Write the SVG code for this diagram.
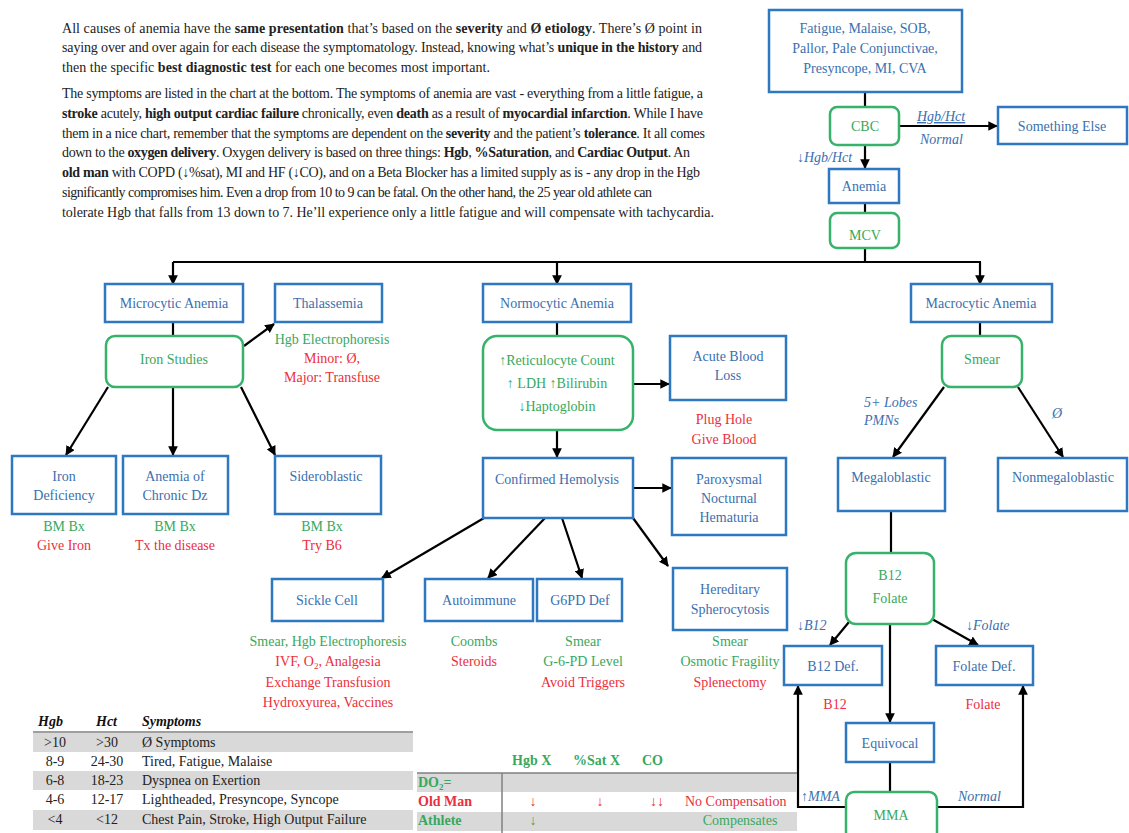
<svg xmlns="http://www.w3.org/2000/svg" width="1129" height="833" viewBox="0 0 1129 833">
<style>
.bx{fill:#fff;stroke:#2e78c2;stroke-width:2.5}
.gx{fill:#fff;stroke:#36b26a;stroke-width:2.5}
text{font-family:"Liberation Serif","Times New Roman",serif;font-size:14px}
.p{font-size:14px;fill:#222}
.k{font-weight:bold}
.b{fill:#3b6fae}
.g{fill:#37a85e}
.r{fill:#ec2f3b}
.c{text-anchor:middle}
.i{font-style:italic}
.cn{stroke:#000;stroke-width:2.2;fill:none}
.ar{marker-end:url(#ah)}
.tg{fill:#d9d9d9}
.tl{stroke:#7f7f7f;stroke-width:1.5}
</style>
<defs>
<marker id="ah" viewBox="0 0 10 10" refX="9" refY="5" markerWidth="4.4" markerHeight="4.4" orient="auto" markerUnits="strokeWidth"><path d="M0,0 L10,5 L0,10 z" fill="#000"/></marker>
</defs>
<rect width="1129" height="833" fill="#fff"/>

<g id="intro">
<text class="p" x="62" y="33" textLength="640" lengthAdjust="spacing">All causes of anemia have the <tspan class="k">same presentation</tspan> that’s based on the <tspan class="k">severity</tspan> and <tspan class="k">Ø etiology</tspan>. There’s Ø point in</text>
<text class="p" x="62" y="52" textLength="640" lengthAdjust="spacing">saying over and over again for each disease the symptomatology. Instead, knowing what’s <tspan class="k">unique in the history</tspan> and</text>
<text class="p" x="62" y="72" textLength="428" lengthAdjust="spacing">then the specific <tspan class="k">best diagnostic test</tspan> for each one becomes most important.</text>
<text class="p" x="62" y="98" textLength="641" lengthAdjust="spacing">The symptoms are listed in the chart at the bottom. The symptoms of anemia are vast - everything from a little fatigue, a</text>
<text class="p" x="62" y="118" textLength="641" lengthAdjust="spacing"><tspan class="k">stroke</tspan> acutely, <tspan class="k">high output cardiac failure</tspan> chronically, even <tspan class="k">death</tspan> as a result of <tspan class="k">myocardial infarction</tspan>. While I have</text>
<text class="p" x="62" y="138" textLength="643" lengthAdjust="spacing">them in a nice chart, remember that the symptoms are dependent on the <tspan class="k">severity</tspan> and the patient’s <tspan class="k">tolerance</tspan>. It all comes</text>
<text class="p" x="62" y="157" textLength="628" lengthAdjust="spacing">down to the <tspan class="k">oxygen delivery</tspan>. Oxygen delivery is based on three things: <tspan class="k">Hgb</tspan>, <tspan class="k">%Saturation</tspan>, and <tspan class="k">Cardiac Output</tspan>. An</text>
<text class="p" x="62" y="177" textLength="638" lengthAdjust="spacing"><tspan class="k">old man</tspan> with COPD (↓%sat), MI and HF (↓CO), and on a Beta Blocker has a limited supply as is - any drop in the Hgb</text>
<text class="p" x="62" y="197" textLength="590" lengthAdjust="spacing">significantly compromises him. Even a drop from 10 to 9 can be fatal.  On the other hand, the 25 year old athlete can</text>
<text class="p" x="62" y="217" textLength="652" lengthAdjust="spacing">tolerate Hgb that falls from 13 down to 7. He’ll experience only a little fatigue and will compensate with tachycardia.</text>
</g>

<g id="connectors">
<line class="cn" x1="865" y1="92" x2="865" y2="107"/>
<line class="cn ar" x1="899" y1="126" x2="997" y2="126"/>
<line class="cn ar" x1="865" y1="145" x2="865" y2="168"/>
<line class="cn" x1="865" y1="203" x2="865" y2="213"/>
<polyline class="cn" points="865,248 865,262"/>
<line class="cn" x1="173" y1="262" x2="981" y2="262"/>
<line class="cn ar" x1="173" y1="262" x2="173" y2="284"/>
<line class="cn ar" x1="557" y1="262" x2="557" y2="284"/>
<line class="cn ar" x1="980" y1="262" x2="980" y2="284"/>
<line class="cn" x1="173" y1="322" x2="173" y2="336"/>
<line class="cn ar" x1="244" y1="346" x2="274" y2="324"/>
<line class="cn ar" x1="108" y1="387" x2="66" y2="455"/>
<line class="cn ar" x1="173" y1="387" x2="173" y2="455"/>
<line class="cn ar" x1="241" y1="387" x2="275" y2="455"/>
<line class="cn" x1="557" y1="322" x2="557" y2="336"/>
<line class="cn ar" x1="633" y1="384" x2="669" y2="384"/>
<line class="cn ar" x1="557" y1="430" x2="557" y2="457"/>
<line class="cn ar" x1="633" y1="488" x2="671" y2="488"/>
<line class="cn ar" x1="484" y1="518" x2="382" y2="578"/>
<line class="cn ar" x1="545" y1="518" x2="488" y2="578"/>
<line class="cn ar" x1="562" y1="518" x2="582" y2="578"/>
<line class="cn ar" x1="633" y1="518" x2="668" y2="566"/>
<line class="cn" x1="980" y1="322" x2="980" y2="336"/>
<line class="cn ar" x1="944" y1="387" x2="893" y2="457"/>
<line class="cn ar" x1="1018" y1="387" x2="1063" y2="457"/>
<line class="cn" x1="891" y1="511" x2="891" y2="553"/>
<line class="cn ar" x1="849" y1="622" x2="830" y2="645"/>
<line class="cn ar" x1="932" y1="619" x2="978" y2="645"/>
<line class="cn ar" x1="890" y1="624" x2="890" y2="722"/>
<line class="cn" x1="890" y1="762" x2="890" y2="792"/>
<polyline class="cn ar" points="846,807 798,807 798,686"/>
<polyline class="cn ar" points="937,807 1023,807 1023,686"/>
<text class="b i" x="917" y="121" text-decoration="underline">Hgb/Hct</text>
<text class="b i" x="920" y="144">Normal</text>
<text class="b i" x="797" y="162">↓Hgb/Hct</text>
<text class="b i" x="864" y="407">5+ Lobes</text>
<text class="b i" x="864" y="425">PMNs</text>
<text class="b i" x="1052" y="418">Ø</text>
<text class="b i" x="797" y="630">↓B12</text>
<text class="b i" x="966" y="630">↓Folate</text>
<text class="b i" x="801" y="801">↑MMA</text>
<text class="b i" x="958" y="801">Normal</text>
</g>

<g id="symptoms"><rect class="bx" x="769" y="10" width="193" height="82"/>
<text class="b c" x="865" y="33">Fatigue, Malaise, SOB,</text>
<text class="b c" x="865" y="53">Pallor, Pale Conjunctivae,</text>
<text class="b c" x="865" y="73">Presyncope, MI, CVA</text></g>
<g id="cbc"><rect class="gx" x="830" y="107" width="69" height="38" rx="7"/><text class="g c" x="865" y="131">CBC</text></g>
<g id="something-else"><rect class="bx" x="998" y="107" width="129" height="37"/><text class="b c" x="1062" y="131">Something Else</text></g>
<g id="anemia"><rect class="bx" x="829" y="169" width="70" height="34"/><text class="b c" x="864" y="191">Anemia</text></g>
<g id="mcv"><rect class="gx" x="830" y="213" width="69" height="35" rx="7"/><text class="g c" x="865" y="240">MCV</text></g>

<g id="microcytic"><rect class="bx" x="105" y="284" width="138" height="38"/><text class="b c" x="174" y="308">Microcytic Anemia</text></g>
<g id="thalassemia"><rect class="bx" x="275" y="284" width="107" height="38"/><text class="b c" x="328" y="308">Thalassemia</text>
<text class="g c" x="332" y="344">Hgb Electrophoresis</text>
<text class="r c" x="332" y="363">Minor: Ø,</text>
<text class="r c" x="332" y="382">Major: Transfuse</text></g>
<g id="iron-studies"><rect class="gx" x="106" y="336" width="137" height="51" rx="9"/><text class="g c" x="174" y="364">Iron Studies</text></g>
<g id="iron-def"><rect class="bx" x="12" y="456" width="104" height="58"/><text class="b c" x="64" y="481">Iron</text><text class="b c" x="64" y="500">Deficiency</text>
<text class="g c" x="64" y="531">BM Bx</text><text class="r c" x="64" y="550">Give Iron</text></g>
<g id="acd"><rect class="bx" x="123" y="456" width="105" height="58"/><text class="b c" x="175" y="481">Anemia of</text><text class="b c" x="175" y="500">Chronic Dz</text>
<text class="g c" x="175" y="531">BM Bx</text><text class="r c" x="175" y="550">Tx the disease</text></g>
<g id="sideroblastic"><rect class="bx" x="275" y="456" width="106" height="58"/><text class="b c" x="326" y="481">Sideroblastic</text>
<text class="g c" x="322" y="531">BM Bx</text><text class="r c" x="322" y="550">Try B6</text></g>

<g id="normocytic"><rect class="bx" x="483" y="284" width="148" height="38"/><text class="b c" x="557" y="308">Normocytic Anemia</text></g>
<g id="retic"><rect class="gx" x="483" y="336" width="150" height="94" rx="14"/>
<text class="g c" x="557" y="365">↑Reticulocyte Count</text>
<text class="g c" x="557" y="388">↑ LDH ↑Bilirubin</text>
<text class="g c" x="557" y="411">↓Haptoglobin</text></g>
<g id="acute-blood-loss"><rect class="bx" x="670" y="336" width="116" height="64"/><text class="b c" x="728" y="361">Acute Blood</text><text class="b c" x="728" y="380">Loss</text>
<text class="r c" x="724" y="424">Plug Hole</text><text class="r c" x="724" y="444">Give Blood</text></g>
<g id="confirmed-hemolysis"><rect class="bx" x="483" y="458" width="150" height="60"/><text class="b c" x="557" y="484">Confirmed Hemolysis</text></g>
<g id="pnh"><rect class="bx" x="672" y="458" width="114" height="77"/><text class="b c" x="729" y="484">Paroxysmal</text><text class="b c" x="729" y="503">Nocturnal</text><text class="b c" x="729" y="522">Hematuria</text></g>
<g id="sickle-cell"><rect class="bx" x="272" y="579" width="111" height="42"/><text class="b c" x="327" y="605">Sickle Cell</text>
<text class="g c" x="328" y="646">Smear, Hgb Electrophoresis</text>
<text class="r c" x="328" y="666">IVF, O<tspan font-size="9" dy="3">2</tspan><tspan dy="-3">, Analgesia</tspan></text>
<text class="r c" x="328" y="687">Exchange Transfusion</text>
<text class="r c" x="328" y="707">Hydroxyurea, Vaccines</text></g>
<g id="autoimmune"><rect class="bx" x="425" y="579" width="108" height="42"/><text class="b c" x="479" y="605">Autoimmune</text>
<text class="g c" x="474" y="646">Coombs</text><text class="r c" x="474" y="666">Steroids</text></g>
<g id="g6pd"><rect class="bx" x="537" y="579" width="85" height="42"/><text class="b c" x="580" y="605">G6PD Def</text>
<text class="g c" x="583" y="646">Smear</text><text class="g c" x="583" y="666">G-6-PD Level</text><text class="r c" x="583" y="687">Avoid Triggers</text></g>
<g id="hered-sphero"><rect class="bx" x="673" y="568" width="114" height="62"/><text class="b c" x="730" y="594">Hereditary</text><text class="b c" x="730" y="614">Spherocytosis</text>
<text class="g c" x="730" y="646">Smear</text><text class="g c" x="730" y="666">Osmotic Fragility</text><text class="r c" x="730" y="687">Splenectomy</text></g>

<g id="macrocytic"><rect class="bx" x="911" y="284" width="141" height="38"/><text class="b c" x="981" y="308">Macrocytic Anemia</text></g>
<g id="smear"><rect class="gx" x="942" y="336" width="80" height="51" rx="9"/><text class="g c" x="982" y="364">Smear</text></g>
<g id="megaloblastic"><rect class="bx" x="838" y="458" width="107" height="53"/><text class="b c" x="891" y="482">Megaloblastic</text></g>
<g id="nonmegaloblastic"><rect class="bx" x="998" y="458" width="129" height="53"/><text class="b c" x="1063" y="482">Nonmegaloblastic</text></g>
<g id="b12-folate"><rect class="gx" x="846" y="553" width="88" height="71" rx="10"/><text class="g c" x="890" y="580">B12</text><text class="g c" x="890" y="603">Folate</text></g>
<g id="b12-def"><rect class="bx" x="784" y="646" width="98" height="39"/><text class="b c" x="833" y="671">B12 Def.</text><text class="r c" x="835" y="709">B12</text></g>
<g id="folate-def"><rect class="bx" x="936" y="646" width="97" height="39"/><text class="b c" x="984" y="671">Folate Def.</text><text class="r c" x="983" y="709">Folate</text></g>
<g id="equivocal"><rect class="bx" x="846" y="723" width="88" height="39"/><text class="b c" x="890" y="748">Equivocal</text></g>
<g id="mma"><rect class="gx" x="846" y="792" width="91" height="48" rx="8"/><text class="g c" x="891" y="820">MMA</text></g>

<g id="severity-table">
<text class="k i" x="38" y="726" fill="#111">Hgb</text>
<text class="k i" x="96" y="726" fill="#111">Hct</text>
<text class="k i" x="142" y="726" fill="#111">Symptoms</text>
<rect class="tg" x="33" y="733" width="380" height="19"/>
<rect class="tg" x="33" y="771" width="380" height="19"/>
<rect class="tg" x="33" y="810" width="380" height="20"/>
<line class="tl" x1="33" y1="732" x2="413" y2="732"/>
<g fill="#222">
<text class="c" x="55" y="747">&gt;10</text><text class="c" x="107" y="747">&gt;30</text><text x="142" y="747">Ø Symptoms</text>
<text class="c" x="55" y="766">8-9</text><text class="c" x="107" y="766">24-30</text><text x="142" y="766">Tired, Fatigue, Malaise</text>
<text class="c" x="55" y="785">6-8</text><text class="c" x="107" y="785">18-23</text><text x="142" y="785">Dyspnea on Exertion</text>
<text class="c" x="55" y="804">4-6</text><text class="c" x="107" y="804">12-17</text><text x="142" y="804">Lightheaded, Presyncope, Syncope</text>
<text class="c" x="55" y="824">&lt;4</text><text class="c" x="107" y="824">&lt;12</text><text x="142" y="824">Chest Pain, Stroke, High Output Failure</text>
</g>
</g>

<g id="do2-table">
<text class="g k" x="512" y="765">Hgb  X</text>
<text class="g k" x="573" y="765">%Sat X</text>
<text class="g k" x="642" y="765">CO</text>
<rect class="tg" x="417" y="773" width="380" height="19"/>
<rect class="tg" x="417" y="812" width="380" height="19"/>
<line class="tl" x1="417" y1="773" x2="797" y2="773"/>
<line class="tl" x1="502" y1="773" x2="502" y2="833"/>
<text class="g k" x="418" y="787">DO<tspan font-size="9" dy="3">2</tspan><tspan dy="-3">=</tspan></text>
<text class="r k" x="418" y="806">Old Man</text>
<text class="r c" x="533" y="806">↓</text>
<text class="r c" x="600" y="806">↓</text>
<text class="r c" x="657" y="806">↓↓</text>
<text class="r" x="685" y="806">No Compensation</text>
<text class="g k" x="418" y="825">Athlete</text>
<text class="g c" x="533" y="825">↓</text>
<text class="g c" x="740" y="825">Compensates</text>
</g>
</svg>
